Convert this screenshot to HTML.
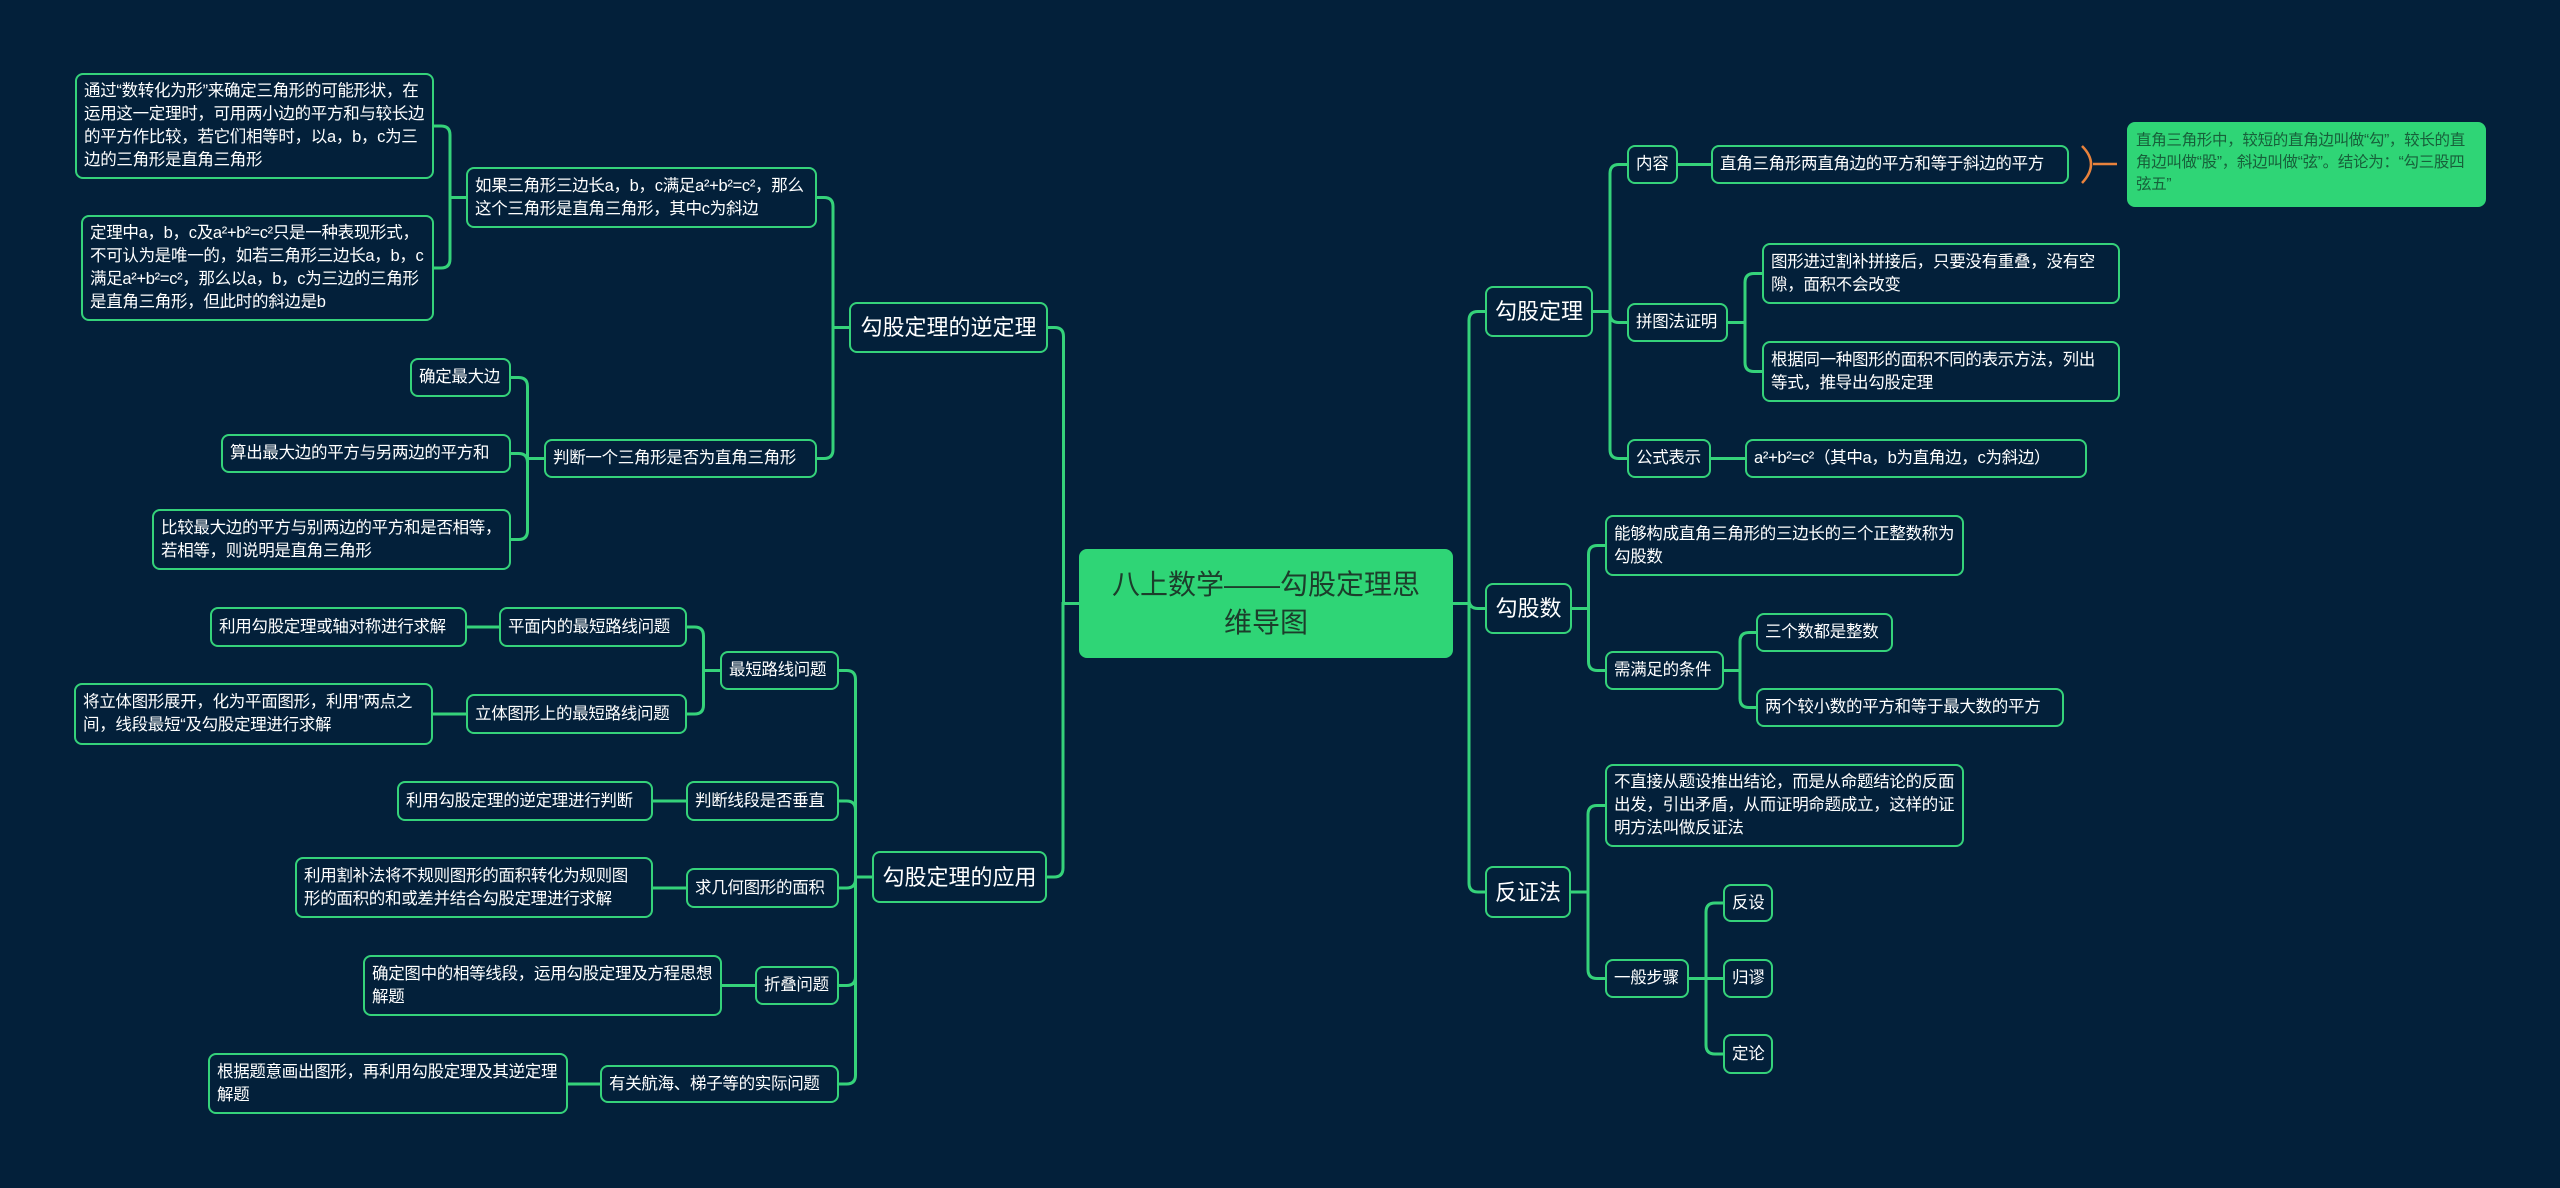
<!DOCTYPE html>
<html><head><meta charset="utf-8">
<style>
html,body{margin:0;padding:0;}
body{width:2560px;height:1188px;background:#03203a;position:relative;overflow:hidden;font-family:"Liberation Sans","Noto Sans CJK SC",sans-serif;}
.n{position:absolute;box-sizing:border-box;border:2px solid #35d27a;border-radius:8px;background:#03203a;color:#fff;font-size:16.5px;line-height:23px;display:flex;align-items:center;padding:0 7px;white-space:nowrap;letter-spacing:-0.3px;}
.n.m{font-size:22px;justify-content:center;letter-spacing:0;}
.n.w{white-space:normal;}
.c{background:#2fd576;color:#1c3d2b;font-size:28px;line-height:38px;text-align:center;justify-content:center;border-color:#2fd576;white-space:normal;letter-spacing:0;}
.note{background:#2fd576;border-color:#2fd576;color:#17603a;white-space:normal;align-items:flex-start;padding-top:6px;font-size:15.5px;line-height:22px;}
svg{position:absolute;left:0;top:0;}
</style></head><body>
<svg id="s" width="2560" height="1188"></svg>

<div class="n c" style="left:1079px;top:549px;width:374px;height:109px;">八上数学——勾股定理思<br>维导图</div>

<div class="n m" style="left:849px;top:302px;width:199px;height:51px;">勾股定理的逆定理</div>
<div class="n m" style="left:872px;top:851px;width:175px;height:52px;">勾股定理的应用</div>
<div class="n w" style="left:466px;top:167px;width:351px;height:61px;">如果三角形三边长a，b，c满足a²+b²=c²，那么这个三角形是直角三角形，其中c为斜边</div>
<div class="n w" style="left:75px;top:73px;width:359px;height:106px;">通过“数转化为形”来确定三角形的可能形状，在运用这一定理时，可用两小边的平方和与较长边的平方作比较，若它们相等时，以a，b，c为三边的三角形是直角三角形</div>
<div class="n w" style="left:81px;top:215px;width:353px;height:106px;">定理中a，b，c及a²+b²=c²只是一种表现形式，不可认为是唯一的，如若三角形三边长a，b，c满足a²+b²=c²，那么以a，b，c为三边的三角形是直角三角形，但此时的斜边是b</div>
<div class="n" style="left:544px;top:439px;width:273px;height:39px;">判断一个三角形是否为直角三角形</div>
<div class="n" style="left:410px;top:358px;width:101px;height:39px;">确定最大边</div>
<div class="n" style="left:221px;top:434px;width:290px;height:39px;">算出最大边的平方与另两边的平方和</div>
<div class="n w" style="left:152px;top:509px;width:359px;height:61px;">比较最大边的平方与别两边的平方和是否相等，若相等，则说明是直角三角形</div>

<div class="n" style="left:720px;top:651px;width:119px;height:39px;">最短路线问题</div>
<div class="n" style="left:499px;top:607px;width:188px;height:40px;">平面内的最短路线问题</div>
<div class="n" style="left:210px;top:607px;width:257px;height:40px;">利用勾股定理或轴对称进行求解</div>
<div class="n" style="left:466px;top:694px;width:221px;height:40px;">立体图形上的最短路线问题</div>
<div class="n w" style="left:74px;top:683px;width:359px;height:62px;">将立体图形展开，化为平面图形，利用”两点之间，线段最短“及勾股定理进行求解</div>
<div class="n" style="left:686px;top:781px;width:153px;height:40px;">判断线段是否垂直</div>
<div class="n" style="left:397px;top:781px;width:256px;height:40px;">利用勾股定理的逆定理进行判断</div>
<div class="n" style="left:686px;top:868px;width:153px;height:40px;">求几何图形的面积</div>
<div class="n w" style="left:295px;top:857px;width:358px;height:61px;">利用割补法将不规则图形的面积转化为规则图形的面积的和或差并结合勾股定理进行求解</div>
<div class="n" style="left:755px;top:966px;width:84px;height:39px;">折叠问题</div>
<div class="n w" style="left:363px;top:955px;width:359px;height:61px;">确定图中的相等线段，运用勾股定理及方程思想解题</div>
<div class="n" style="left:600px;top:1065px;width:239px;height:38px;">有关航海、梯子等的实际问题</div>
<div class="n w" style="left:208px;top:1053px;width:360px;height:61px;">根据题意画出图形，再利用勾股定理及其逆定理解题</div>

<div class="n m" style="left:1485px;top:286px;width:108px;height:51px;">勾股定理</div>
<div class="n" style="left:1627px;top:145px;width:51px;height:39px;">内容</div>
<div class="n" style="left:1711px;top:145px;width:358px;height:39px;">直角三角形两直角边的平方和等于斜边的平方</div>
<div class="n note" style="left:2127px;top:122px;width:359px;height:85px;">直角三角形中，较短的直角边叫做“勾”，较长的直角边叫做“股”，斜边叫做“弦”。结论为：“勾三股四弦五”</div>
<div class="n" style="left:1627px;top:303px;width:101px;height:39px;">拼图法证明</div>
<div class="n w" style="left:1762px;top:243px;width:358px;height:61px;">图形进过割补拼接后，只要没有重叠，没有空隙，面积不会改变</div>
<div class="n w" style="left:1762px;top:341px;width:358px;height:61px;">根据同一种图形的面积不同的表示方法，列出等式，推导出勾股定理</div>
<div class="n" style="left:1627px;top:439px;width:84px;height:39px;">公式表示</div>
<div class="n" style="left:1745px;top:439px;width:342px;height:39px;">a²+b²=c²（其中a，b为直角边，c为斜边）</div>

<div class="n m" style="left:1485px;top:583px;width:87px;height:51px;">勾股数</div>
<div class="n w" style="left:1605px;top:515px;width:359px;height:61px;">能够构成直角三角形的三边长的三个正整数称为勾股数</div>
<div class="n" style="left:1605px;top:651px;width:119px;height:39px;">需满足的条件</div>
<div class="n" style="left:1756px;top:613px;width:137px;height:39px;">三个数都是整数</div>
<div class="n" style="left:1756px;top:688px;width:308px;height:39px;">两个较小数的平方和等于最大数的平方</div>

<div class="n m" style="left:1485px;top:866px;width:86px;height:52px;">反证法</div>
<div class="n w" style="left:1605px;top:764px;width:359px;height:83px;">不直接从题设推出结论，而是从命题结论的反面出发，引出矛盾，从而证明命题成立，这样的证明方法叫做反证法</div>
<div class="n" style="left:1605px;top:959px;width:84px;height:39px;">一般步骤</div>
<div class="n" style="left:1723px;top:884px;width:50px;height:38px;">反设</div>
<div class="n" style="left:1723px;top:959px;width:50px;height:39px;">归谬</div>
<div class="n" style="left:1723px;top:1034px;width:50px;height:40px;">定论</div>

<script>
var B={c:[1079,549,1453,658],L1:[849,302,1048,353],L2:[872,851,1047,903],
L1a:[466,167,817,228],L1a1:[75,73,434,179],L1a2:[81,215,434,321],L1b:[544,439,817,478],
L1b1:[410,358,511,397],L1b2:[221,434,511,473],L1b3:[152,509,511,570],
L2a:[720,651,839,690],L2a1:[499,607,687,647],L2a1a:[210,607,467,647],L2a2:[466,694,687,734],L2a2a:[74,683,433,745],
L2b:[686,781,839,821],L2b1:[397,781,653,821],L2c:[686,868,839,908],L2c1:[295,857,653,918],
L2d:[755,966,839,1005],L2d1:[363,955,722,1016],L2e:[600,1065,839,1103],L2e1:[208,1053,568,1114],
R1:[1485,286,1593,337],R1a:[1627,145,1678,184],R1a1:[1711,145,2069,184],R1b:[1627,303,1728,342],
R1b1:[1762,243,2120,304],R1b2:[1762,341,2120,402],R1c:[1627,439,1711,478],R1c1:[1745,439,2087,478],
R2:[1485,583,1572,634],R2a:[1605,515,1964,576],R2b:[1605,651,1724,690],R2b1:[1756,613,1893,652],R2b2:[1756,688,2064,727],
R3:[1485,866,1571,918],R3a:[1605,764,1964,847],R3b:[1605,959,1689,998],R3b1:[1723,884,1773,922],R3b2:[1723,959,1773,998],R3b3:[1723,1034,1773,1074]};
var E=[['c','L1'],['c','L2'],['L1','L1a'],['L1','L1b'],['L1a','L1a1'],['L1a','L1a2'],['L1b','L1b1'],['L1b','L1b2'],['L1b','L1b3'],
['L2','L2a'],['L2','L2b'],['L2','L2c'],['L2','L2d'],['L2','L2e'],['L2a','L2a1'],['L2a','L2a2'],['L2a1','L2a1a'],['L2a2','L2a2a'],
['L2b','L2b1'],['L2c','L2c1'],['L2d','L2d1'],['L2e','L2e1'],
['c','R1'],['c','R2'],['c','R3'],['R1','R1a'],['R1','R1b'],['R1','R1c'],['R1a','R1a1'],['R1b','R1b1'],['R1b','R1b2'],['R1c','R1c1'],
['R2','R2a'],['R2','R2b'],['R2b','R2b1'],['R2b','R2b2'],['R3','R3a'],['R3','R3b'],['R3b','R3b1'],['R3b','R3b2'],['R3b','R3b3']];
var d='';
E.forEach(function(e){var p=B[e[0]],q=B[e[1]];var right=q[0]>p[2]-1;
var px=right?p[2]:p[0],py=(p[1]+p[3])/2,cx=right?q[0]:q[2],cy=(q[1]+q[3])/2;
var tx=(px+cx)/2,s=right?1:-1,r=9;
if(Math.abs(cy-py)<2){d+='M'+px+' '+py+'H'+cx;return;}
var v=cy>py?1:-1;
d+='M'+px+' '+py+'H'+tx+'V'+(cy-v*r)+'Q'+tx+' '+cy+' '+(tx+s*r)+' '+cy+'H'+cx;});
var s=document.getElementById('s');
var ns='http://www.w3.org/2000/svg';
var p1=document.createElementNS(ns,'path');p1.setAttribute('d',d);p1.setAttribute('fill','none');p1.setAttribute('stroke','#35d27a');p1.setAttribute('stroke-width','3');s.appendChild(p1);
var p2=document.createElementNS(ns,'path');p2.setAttribute('d','M2082 146Q2100 164 2082 183M2093 164H2117');p2.setAttribute('fill','none');p2.setAttribute('stroke','#e8823c');p2.setAttribute('stroke-width','2.5');s.appendChild(p2);
</script>
</body></html>
